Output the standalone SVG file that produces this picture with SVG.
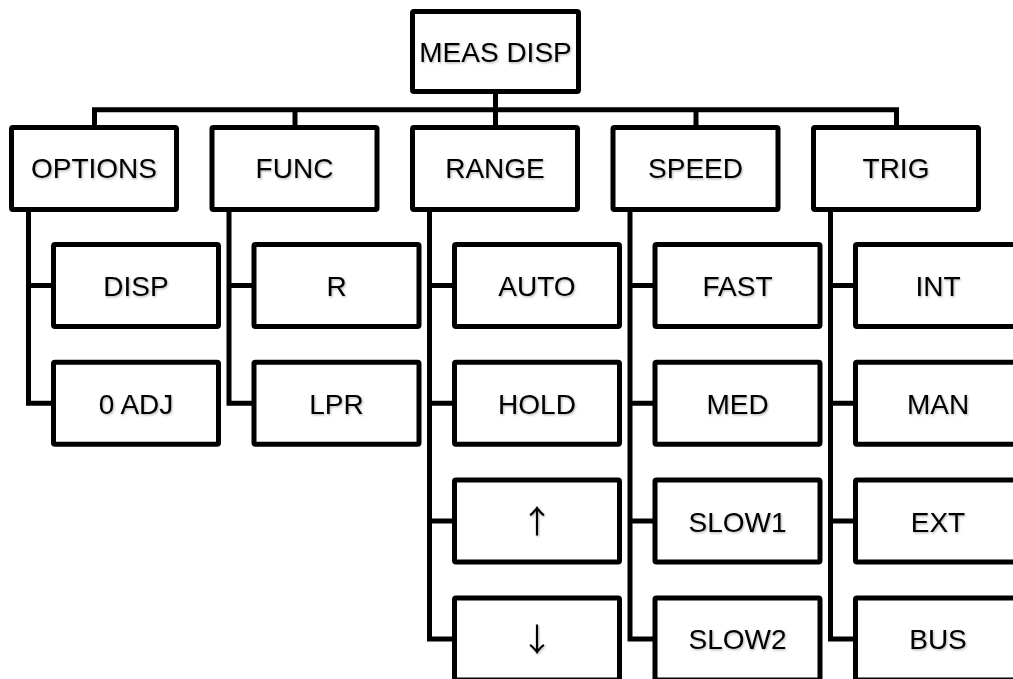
<svg xmlns="http://www.w3.org/2000/svg" width="1013" height="679" viewBox="0 0 1013 679">
<defs>
<filter id="sh" x="-10%" y="-20%" width="130%" height="150%">
<feDropShadow dx="1" dy="1.2" stdDeviation="0.8" flood-color="#000" flood-opacity="0.3"/>
</filter>
</defs>
<style>
.box{fill:#fff;stroke:#000;stroke-width:5;stroke-linejoin:round}
.ln{fill:none;stroke:#000;stroke-width:5;stroke-linejoin:miter;stroke-linecap:butt}
text{font-family:"Liberation Sans","DejaVu Sans",Arial,sans-serif;font-size:28px;fill:#000;text-anchor:middle;filter:url(#sh)}
text.arr{font-family:"Noto Sans CJK JP","DejaVu Sans",sans-serif;font-size:32px}
</style>
<rect width="1013" height="679" fill="#fff"/>
<g id="connectors">
<path class="ln" d="M495.5 91.5 V127.5"/>
<path class="ln" d="M94.5 127.5 V109.8 H896.5 V127.5"/>
<path class="ln" d="M295 109.8 V127.5"/>
<path class="ln" d="M696 109.8 V127.5"/>
<path class="ln" d="M28.5 209.5 V403.3 H53.5"/>
<path class="ln" d="M28.5 285.5 H53.5"/>
<path class="ln" d="M229 209.5 V403.3 H254"/>
<path class="ln" d="M229 285.5 H254"/>
<path class="ln" d="M429.5 209.5 V638.9 H454.5"/>
<path class="ln" d="M429.5 285.5 H454.5 M429.5 403.3 H454.5 M429.5 521.1 H454.5"/>
<path class="ln" d="M630 209.5 V638.9 H655"/>
<path class="ln" d="M630 285.5 H655 M630 403.3 H655 M630 521.1 H655"/>
<path class="ln" d="M830.5 209.5 V638.9 H855.5"/>
<path class="ln" d="M830.5 285.5 H855.5 M830.5 403.3 H855.5 M830.5 521.1 H855.5"/>
</g>
<g id="meas-disp"><rect class="box" x="412.5" y="11.5" width="166" height="80" rx="1.5"/><text x="495.5" y="61.5">MEAS DISP</text></g>
<g id="options"><rect class="box" x="11.5" y="127.5" width="165" height="82" rx="1.5"/><text x="94" y="178">OPTIONS</text></g>
<g id="func"><rect class="box" x="212" y="127.5" width="165" height="82" rx="1.5"/><text x="294.5" y="178">FUNC</text></g>
<g id="range"><rect class="box" x="412.5" y="127.5" width="165" height="82" rx="1.5"/><text x="495" y="178">RANGE</text></g>
<g id="speed"><rect class="box" x="613" y="127.5" width="165" height="82" rx="1.5"/><text x="695.5" y="178">SPEED</text></g>
<g id="trig"><rect class="box" x="813.5" y="127.5" width="165" height="82" rx="1.5"/><text x="896" y="178">TRIG</text></g>
<g id="disp"><rect class="box" x="53.5" y="244.5" width="165" height="82" rx="1.5"/><text x="136" y="296">DISP</text></g>
<g id="zero-adj"><rect class="box" x="53.5" y="362.3" width="165" height="82" rx="1.5"/><text x="136" y="413.8">0 ADJ</text></g>
<g id="r"><rect class="box" x="254" y="244.5" width="165" height="82" rx="1.5"/><text x="336.5" y="296">R</text></g>
<g id="lpr"><rect class="box" x="254" y="362.3" width="165" height="82" rx="1.5"/><text x="336.5" y="413.8">LPR</text></g>
<g id="auto"><rect class="box" x="454.5" y="244.5" width="165" height="82" rx="1.5"/><text x="537" y="296">AUTO</text></g>
<g id="hold"><rect class="box" x="454.5" y="362.3" width="165" height="82" rx="1.5"/><text x="537" y="413.8">HOLD</text></g>
<g id="up"><rect class="box" x="454.5" y="480.1" width="165" height="82" rx="1.5"/><text class="arr" x="537" y="533">↑</text></g>
<g id="down"><rect class="box" x="454.5" y="597.9" width="165" height="82" rx="1.5"/><text class="arr" x="537" y="651">↓</text></g>
<g id="fast"><rect class="box" x="655" y="244.5" width="165" height="82" rx="1.5"/><text x="737.5" y="296">FAST</text></g>
<g id="med"><rect class="box" x="655" y="362.3" width="165" height="82" rx="1.5"/><text x="737.5" y="413.8">MED</text></g>
<g id="slow1"><rect class="box" x="655" y="480.1" width="165" height="82" rx="1.5"/><text x="737.5" y="531.6">SLOW1</text></g>
<g id="slow2"><rect class="box" x="655" y="597.9" width="165" height="82" rx="1.5"/><text x="737.5" y="649.4">SLOW2</text></g>
<g id="int"><rect class="box" x="855.5" y="244.5" width="165" height="82" rx="1.5"/><text x="938" y="296">INT</text></g>
<g id="man"><rect class="box" x="855.5" y="362.3" width="165" height="82" rx="1.5"/><text x="938" y="413.8">MAN</text></g>
<g id="ext"><rect class="box" x="855.5" y="480.1" width="165" height="82" rx="1.5"/><text x="938" y="531.6">EXT</text></g>
<g id="bus"><rect class="box" x="855.5" y="597.9" width="165" height="82" rx="1.5"/><text x="938" y="649.4">BUS</text></g>
</svg>
